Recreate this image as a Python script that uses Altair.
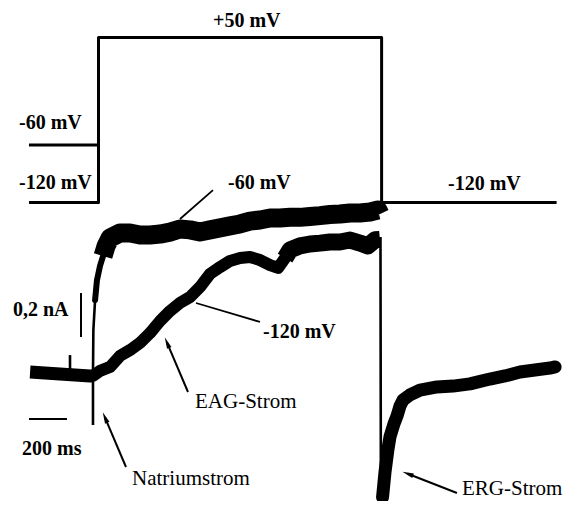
import altair as alt
import pandas as pd

# time in ms (0 = onset of the +50 mV step), current in nA (0 = holding current)
# ---------------- voltage protocol (schematic levels drawn above the traces)
prot_t = [-366, 0, 0, 1490, 1490, 2411]
prot_y = [0.78, 0.78, 1.53, 1.53, 0.78, 0.78]
prot60_t = [-366, 0]
prot60_y = [1.041, 1.041]

# ---------------- current traces (noisy bands -> thick strokes)
base_t = [-360, -282, -203, -124, -45, -29]
base_y = [0.009, 0.005, 0.0, -0.005, -0.009, -0.009]

m60_t = [24, 40, 61, 113, 166, 218, 271, 324, 376, 429, 482, 534, 587, 640,
         692, 745, 797, 850, 903, 955, 1008, 1060, 1113, 1166, 1218, 1271,
         1324, 1376, 1429, 1471, 1481]
m60_y = [0.536, 0.582, 0.618, 0.641, 0.641, 0.632, 0.632, 0.636, 0.645,
         0.659, 0.655, 0.645, 0.655, 0.664, 0.673, 0.682, 0.695, 0.700, 0.709,
         0.709, 0.712, 0.712, 0.716, 0.720, 0.725, 0.727, 0.732, 0.732, 0.736,
         0.745, 0.727]

# -120 mV prepulse trace: slow rising part, then noisier late part
m120a_t = [-29, 8, 61, 113, 166, 218, 271, 324, 376, 429, 482, 534, 587, 640,
           692, 745, 797, 850, 903, 945, 982]
m120a_y = [-0.009, 0.014, 0.032, 0.082, 0.109, 0.141, 0.186, 0.241, 0.286,
           0.323, 0.350, 0.395, 0.455, 0.486, 0.514, 0.527, 0.532, 0.518, 0.495,
           0.482, 0.527]
m120b_t = [982, 1008, 1060, 1113, 1166, 1218, 1271, 1324, 1376, 1418, 1455, 1481]
m120b_y = [0.527, 0.564, 0.582, 0.591, 0.595, 0.600, 0.600, 0.609, 0.595,
           0.582, 0.610, 0.612]

tail_t = [1495, 1508, 1523, 1534, 1555, 1571, 1587, 1603, 1639, 1692, 1782,
          1866, 1955, 2060, 2139, 2218, 2297, 2376, 2403]
tail_y = [-0.560, -0.445, -0.345, -0.286, -0.227, -0.191, -0.145, -0.118,
          -0.095, -0.073, -0.059, -0.055, -0.045, -0.023, -0.009, 0.009, 0.018,
          0.027, 0.032]

# fast parts: sodium spike + start of the -60 mV rise, tail current step, baseline spike
fast60_t = [-29, -29, -27, -18]
fast60_y = [-0.232, 0.0, 0.20, 0.336]
rise60_t = [-18, -8, 8, 24, 40]
rise60_y = [0.336, 0.427, 0.491, 0.536, 0.582]
drop_t = [1484, 1486, 1493]
drop_y = [0.623, -0.45, -0.572]
spike_t = [-150, -150]
spike_y = [0.009, 0.086]

# ---------------- scale bars
bar_v_t = [-92, -92]
bar_v_y = [0.168, 0.368]
bar_h_t = [-366, -166]
bar_h_y = [-0.2045, -0.2045]

# ---------------- annotation pointers (start -> end)
ptr_t = [602.6, 513.1]
ptr_y = [0.836, 0.3227]
ptr_t2 = [428.9, 849.9]
ptr_y2 = [0.7045, 0.2364]

arrow_names = ["EAG", "Natrium", "ERG"]
arrow_t = [471.0, 144.7, 1886.6]
arrow_y = [-0.0818, -0.4227, -0.5409]
arrow_t2 = [360.5, 34.2, 1627.4]
arrow_y2 = [0.1427, -0.198, -0.4536]
arrow_angle = [337, 337, 291]

# ---------------- labels
bold_text = ["+50 mV", "-60 mV", "-120 mV", "-60 mV", "-120 mV", "-120 mV", "0,2 nA", "200 ms"]
bold_t = [602.6, -418.4, -418.4, 681.6, 1839.4, 865.8, -450.0, -402.6]
bold_y = [1.577, 1.1136, 0.841, 0.841, 0.836, 0.1636, 0.2636, -0.368]

reg_text = ["EAG-Strom", "Natriumstrom", "ERG-Strom"]
reg_t = [507.9, 176.3, 1913.1]
reg_y = [-0.1545, -0.5045, -0.550]


def series(parts):
    rows = []
    for name, ts, ys in parts:
        for i, (t, y) in enumerate(zip(ts, ys)):
            rows.append({"seg": name, "i": i, "t": t, "y": y})
    return pd.DataFrame(rows)


X_DOM = [-476.3, 2455.2]
Y_DOM = [-0.5773, 1.6636]
xs = alt.Scale(domain=X_DOM, nice=False, zero=False)
ys = alt.Scale(domain=Y_DOM, nice=False, zero=False)


def line_layer(df, width, cap="butt"):
    return alt.Chart(df).mark_line(strokeWidth=width, color="black", strokeJoin="round",
                                   strokeCap=cap, clip=False).encode(
        x=alt.X("t:Q", scale=xs, axis=None),
        y=alt.Y("y:Q", scale=ys, axis=None),
        detail="seg:N",
        order="i:Q",
    )


protocol = line_layer(series([("p", prot_t, prot_y), ("p60", prot60_t, prot60_y)]), 3)
base = line_layer(series([("base", base_t, base_y)]), 13)
m120a = line_layer(series([("m120a", m120a_t, m120a_y)]), 12, cap="round")
m120b = line_layer(series([("m120b", m120b_t, m120b_y)]), 17)
m60 = line_layer(series([("m60", m60_t, m60_y)]), 19)
tail = line_layer(series([("tail", tail_t, tail_y)]), 13, cap="round")
rise = line_layer(series([("r60", rise60_t, rise60_y)]), 6, cap="round")
fast = line_layer(series([("f60", fast60_t, fast60_y), ("drop", drop_t, drop_y),
                          ("spk", spike_t, spike_y)]), 2.6)
bars = line_layer(series([("bv", bar_v_t, bar_v_y), ("bh", bar_h_t, bar_h_y)]), 2)

ptr_df = pd.DataFrame({"t": ptr_t, "y": ptr_y, "t2": ptr_t2, "y2": ptr_y2})
pointers = alt.Chart(ptr_df).mark_rule(strokeWidth=1.8, color="black").encode(
    x=alt.X("t:Q", scale=xs, axis=None), y=alt.Y("y:Q", scale=ys, axis=None),
    x2="t2:Q", y2="y2:Q")

arr_df = pd.DataFrame({"name": arrow_names, "t": arrow_t, "y": arrow_y,
                       "t2": arrow_t2, "y2": arrow_y2, "angle": arrow_angle})
arrow_lines = alt.Chart(arr_df).mark_rule(strokeWidth=2, color="black").encode(
    x=alt.X("t:Q", scale=xs, axis=None), y=alt.Y("y:Q", scale=ys, axis=None),
    x2="t2:Q", y2="y2:Q")
arrow_heads = alt.Chart(arr_df).mark_point(
    shape="M0,-1L0.42,1L-0.42,1Z", filled=True, color="black", opacity=1,
    size=130, strokeWidth=0).encode(
    x=alt.X("t2:Q", scale=xs, axis=None), y=alt.Y("y2:Q", scale=ys, axis=None),
    angle=alt.Angle("angle:Q", scale=None))

bold_df = pd.DataFrame({"txt": bold_text, "t": bold_t, "y": bold_y})
bold_labels = alt.Chart(bold_df).mark_text(
    align="left", baseline="alphabetic", font="Liberation Serif", fontSize=20,
    fontWeight="bold", color="black").encode(
    x=alt.X("t:Q", scale=xs, axis=None), y=alt.Y("y:Q", scale=ys, axis=None), text="txt:N")

reg_df = pd.DataFrame({"txt": reg_text, "t": reg_t, "y": reg_y})
reg_labels = alt.Chart(reg_df).mark_text(
    align="left", baseline="alphabetic", font="Liberation Serif", fontSize=21,
    color="black").encode(
    x=alt.X("t:Q", scale=xs, axis=None), y=alt.Y("y:Q", scale=ys, axis=None), text="txt:N")

chart = alt.layer(protocol, base, m120a, m120b, m60, tail, rise, fast, bars, pointers,
                  arrow_lines, arrow_heads, bold_labels, reg_labels).properties(
    width=557, height=493, padding=0,
    autosize=alt.AutoSizeParams(type="none"),
    background="white",
).configure_view(strokeWidth=0)

chart.save("out.html", embed_options={"renderer": "svg", "actions": False})
